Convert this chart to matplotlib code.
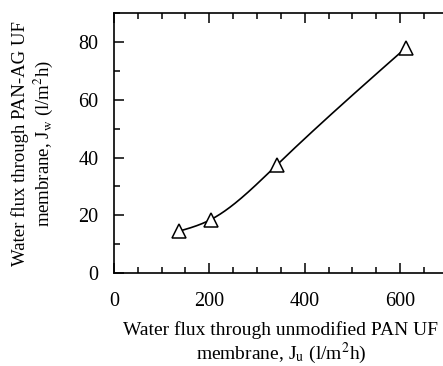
import numpy as np
import matplotlib
matplotlib.use("Agg")
import matplotlib.pyplot as plt
from matplotlib.ticker import MultipleLocator

plt.rcParams['font.family'] = ['Liberation Serif', 'DejaVu Serif']
plt.rcParams['mathtext.fontset'] = 'stix'

# Data
ju = [137, 203, 342, 612]          # unmodified PAN UF flux (l/m2h)
jw = [14.5, 18.5, 37.5, 78.0]      # PAN-AG UF flux (l/m2h)
xticks = [0, 200, 400, 600]
yticks = [0, 20, 40, 60, 80]


def natural_spline(x, y, xs):
    x = np.asarray(x, float); y = np.asarray(y, float)
    n = len(x)
    h = np.diff(x)
    A = np.zeros((n, n)); b = np.zeros(n)
    A[0, 0] = A[-1, -1] = 1
    for i in range(1, n - 1):
        A[i, i - 1] = h[i - 1]
        A[i, i] = 2 * (h[i - 1] + h[i])
        A[i, i + 1] = h[i]
        b[i] = 6 * ((y[i + 1] - y[i]) / h[i] - (y[i] - y[i - 1]) / h[i - 1])
    M = np.linalg.solve(A, b)
    out = np.empty_like(xs)
    for k, xv in enumerate(xs):
        i = min(max(np.searchsorted(x, xv) - 1, 0), n - 2)
        t0 = x[i + 1] - xv; t1 = xv - x[i]
        out[k] = (M[i] * t0**3 + M[i + 1] * t1**3) / (6 * h[i]) \
            + (y[i] / h[i] - M[i] * h[i] / 6) * t0 \
            + (y[i + 1] / h[i] - M[i + 1] * h[i] / 6) * t1
    return out


fig = plt.figure(figsize=(4.43, 3.66), dpi=100)
ax = fig.add_axes([0.257, 0.254, 0.754, 0.71])

xs = np.linspace(ju[0], ju[-1], 300)
ax.plot(xs, natural_spline(ju, jw, xs), color='black', lw=1.2)
ax.plot(ju, jw, linestyle='none', marker='^', markersize=9.5,
        markerfacecolor='white', markeredgecolor='black', markeredgewidth=1.1)

ax.set_xlim(0, 700)
ax.set_ylim(0, 90)
ax.set_xticks(xticks)
ax.set_yticks(yticks)
ax.xaxis.set_minor_locator(MultipleLocator(50))
ax.yaxis.set_minor_locator(MultipleLocator(10))
ax.tick_params(which='both', direction='in', top=True, right=False,
               labelsize=14.5, width=1.1)
ax.tick_params(which='major', length=7)
ax.tick_params(which='minor', length=4)
ax.tick_params(axis='x', which='major', pad=14)
ax.tick_params(axis='y', which='major', pad=11)
for s in ['left', 'bottom', 'top']:
    ax.spines[s].set_linewidth(1.2)
ax.spines['right'].set_visible(False)

ax.set_xlabel('Water flux through unmodified PAN UF\nmembrane, J$_\\mathrm{u}$ (l/m$^2$h)',
              fontsize=14, labelpad=7, linespacing=1.1)
ax.set_ylabel('Water flux through PAN-AG UF\nmembrane, J$_\\mathrm{w}$ (l/m$^2$h)',
              fontsize=13.5, labelpad=17, linespacing=1.15)

fig.savefig('out.png', dpi=100)
